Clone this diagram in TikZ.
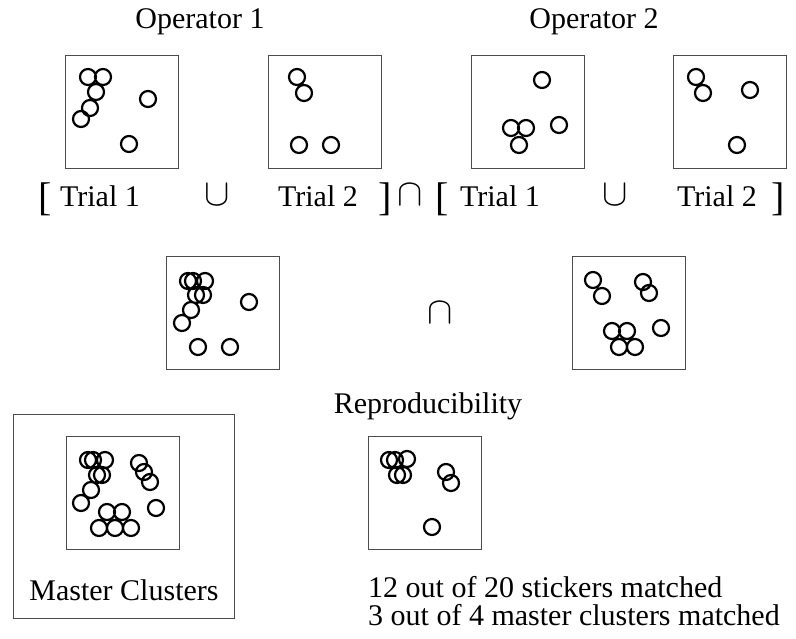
\documentclass[tikz,border=0pt]{standalone}
\usepackage{fontspec}
\setmainfont{Liberation Serif}
\usepackage{tikz}

\begin{document}
\begin{tikzpicture}[x=1pt, y=-1pt,
        box/.style={draw=black!70, line width=1pt, minimum size=113pt, inner sep=0pt},
        sticker/.style={draw, line width=2.2pt},
        lbl/.style={font=\fontsize{30}{34}\selectfont, inner sep=0pt},
        brk/.style={font=\fontsize{40}{42}\selectfont, inner sep=0pt},
        setop/.style={inner sep=0pt}]
        \useasboundingbox (0,0) rectangle (796,638);

        \node[lbl, anchor=base] (op1) at (200,28) {Operator 1};
        \node[lbl, anchor=base] (op2) at (594,28) {Operator 2};

        \node[box] (trialA1) at (121.5,111.5) {};
        \node[box] (trialA2) at (324.5,111.5) {};
        \node[box] (trialB1) at (527.5,111.5) {};
        \node[box] (trialB2) at (729.5,111.5) {};

        \draw[sticker] (88,77) circle (8pt) (103,77) circle (8pt) (96,92) circle (8pt)
            (90,108) circle (8pt) (81,119) circle (8pt) (148,99) circle (8pt) (129,144) circle (8pt);
        \draw[sticker] (297,77) circle (8pt) (304,93) circle (8pt) (299,145) circle (8pt) (331,145) circle (8pt);
        \draw[sticker] (542,80) circle (8pt) (559,125) circle (8pt) (511,128) circle (8pt)
            (526,128) circle (8pt) (519,145) circle (8pt);
        \draw[sticker] (696,77) circle (8pt) (703,93) circle (8pt) (750,90) circle (8pt) (737,145) circle (8pt);

        \node[brk, anchor=base] (lbrA) at (45,210) {[};
        \node[lbl, anchor=base] (lblA1) at (100,206) {Trial 1};
        \node[setop] (cupA) at (217,195) {\scalebox{3.8}{$\cup$}};
        \node[lbl, anchor=base] (lblA2) at (318,206) {Trial 2};
        \node[brk, anchor=base] (rbrA) at (385,210) {]};
        \node[setop] (capTop) at (410,195) {\scalebox{3.8}{$\cap$}};
        \node[brk, anchor=base] (lbrB) at (442,210) {[};
        \node[lbl, anchor=base] (lblB1) at (500,206) {Trial 1};
        \node[setop] (cupB) at (615,195) {\scalebox{3.8}{$\cup$}};
        \node[lbl, anchor=base] (lblB2) at (717,206) {Trial 2};
        \node[brk, anchor=base] (rbrB) at (778,210) {]};

        \node[box] (unionA) at (223,313) {};
        \node[box] (unionB) at (628.5,313) {};
        \node[setop] (capMid) at (440,313) {\scalebox{3.8}{$\cap$}};

        \draw[sticker] (188,281) circle (8pt) (193,281) circle (8pt) (205,281) circle (8pt)
            (196,295) circle (8pt) (203,295) circle (8pt) (191,310) circle (8pt) (182,323) circle (8pt)
            (249,302) circle (8pt) (198,347) circle (8pt) (230,347) circle (8pt);
        \draw[sticker] (593,280) circle (8pt) (602,296) circle (8pt) (643,282) circle (8pt)
            (649,293) circle (8pt) (661,328) circle (8pt) (612,331) circle (8pt) (627,331) circle (8pt)
            (619,347) circle (8pt) (635,347) circle (8pt);

        \node[lbl, anchor=base] (repro) at (428,413) {Reproducibility};

        \node[draw=black!70, line width=1pt, minimum width=221pt, minimum height=204pt, inner sep=0pt] (master) at (123.5,516) {};
        \node[box] (masterBox) at (123,493) {};
        \node[box] (matchBox) at (424.5,493) {};

        \draw[sticker] (88,460) circle (8pt) (93,460) circle (8pt) (105,460) circle (8pt)
            (97,475) circle (8pt) (102,475) circle (8pt) (91,490) circle (8pt) (81,503) circle (8pt)
            (139,463) circle (8pt) (144,472) circle (8pt) (150,482) circle (8pt) (156,508) circle (8pt)
            (107,512) circle (8pt) (122,512) circle (8pt) (99,528) circle (8pt) (115,528) circle (8pt)
            (131,528) circle (8pt);
        \draw[sticker] (389,460) circle (8pt) (395,460) circle (8pt) (407,459) circle (8pt)
            (397,475) circle (8pt) (403,475) circle (8pt) (446,472) circle (8pt) (451,483) circle (8pt)
            (432,527) circle (8pt);

        \node[lbl, anchor=base] (masterLbl) at (124,600) {Master Clusters};
        \node[lbl, anchor=base west] (stickLbl) at (368,597) {12 out of 20 stickers matched};
        \node[lbl, anchor=base west] (clustLbl) at (368,625) {3 out of 4 master clusters matched};
    \end{tikzpicture}
\end{document}
